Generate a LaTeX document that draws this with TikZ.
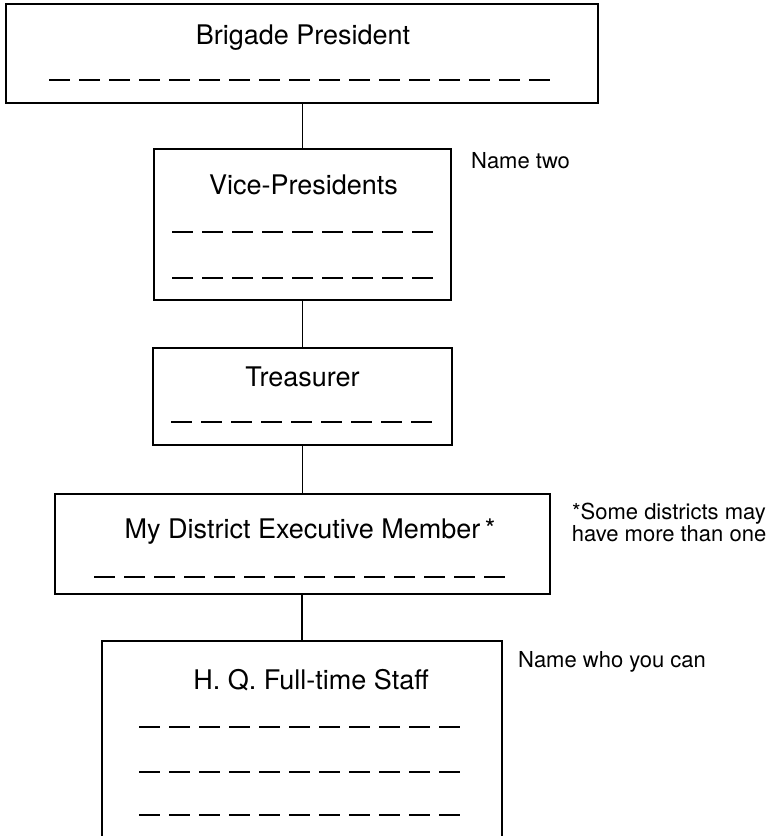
\documentclass[tikz,border=0pt]{standalone}
\usepackage{fontspec}
\setmainfont{TeX Gyre Heros}
\begin{document}
\begin{tikzpicture}[x=1pt,y=-1pt,
  box/.style={draw, line width=1.7pt, inner sep=0pt},
  title/.style={font=\fontsize{27}{30}\selectfont, inner sep=0pt, anchor=base},
  aside/.style={font=\fontsize{22}{22}\selectfont, inner sep=0pt},
  blank/.style={line width=1.4pt, dash pattern=on 21pt off 9pt},
  link/.style={line width=1.5pt}]
\useasboundingbox (0,0) rectangle (774,836);
\clip (0,0) rectangle (774,836);
% boxes
\node[box, minimum width=592pt, minimum height=99pt]  (bp) at (302,53.5) {};
\node[box, minimum width=297pt, minimum height=151pt] (vp) at (302.5,224.5) {};
\node[box, minimum width=299pt, minimum height=97pt]  (tr) at (302.5,396.5) {};
\node[box, minimum width=495pt, minimum height=100pt] (de) at (302.5,544) {};
\node[box, minimum width=400pt, minimum height=259pt] (hq) at (302,770.5) {};
% titles
\node[title] (t1) at (303,44)  {Brigade President};
\node[title] (t2) at (303.5,194) {Vice-Presidents};
\node[title] (t3) at (302.5,386) {Treasurer};
\node[title] (t4) at (310,538) {My District Executive Member\thinspace*};
\node[title] (t5) at (311,689) {H. Q. Full-time Staff};
% blanks
\draw[blank] (49,80) -- ++(501,0);
\draw[blank] (172,232) -- ++(261,0);
\draw[blank] (172,278) -- ++(261,0);
\draw[blank] (171,422) -- ++(261,0);
\draw[blank] (94,577) -- ++(411,0);
\draw[blank] (139,727) -- ++(321,0);
\draw[blank] (139,772) -- ++(321,0);
\draw[blank] (139,815) -- ++(321,0);
% side notes
\node[aside, anchor=base west] (n1) at (471,168) {Name two};
\node[aside, anchor=base west] (n2) at (518,667) {Name who you can};
\node[aside, align=center] (n3) at (669,522) {*Some districts may\\have more than one};
% connectors
\draw[link] (vp.north) -- (vp.north |- bp.south);
\draw[link] (tr.north) -- (tr.north |- vp.south);
\draw[link] (de.north) -- (de.north |- tr.south);
\draw[link] (hq.north) -- (hq.north |- de.south);
\end{tikzpicture}
\end{document}
